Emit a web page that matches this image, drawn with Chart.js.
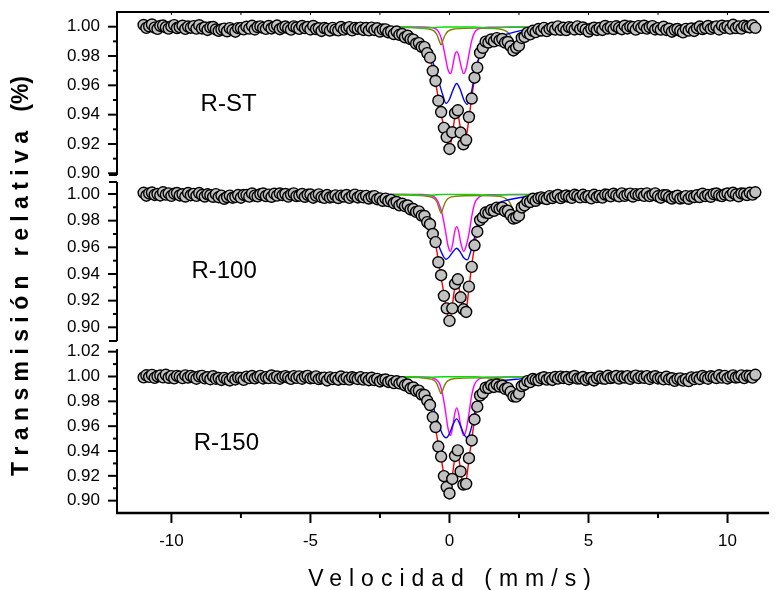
<!DOCTYPE html>
<html>
<head>
<meta charset="utf-8">
<title>Espectros Mössbauer R-ST, R-100, R-150</title>
<script src="https://cdn.jsdelivr.net/npm/chart.js@4.4.1/dist/chart.umd.min.js"></script>
<style>
  html, body { margin: 0; padding: 0; background: #fff; overflow: hidden; }
  #wrap { width: 776px; height: 590px; }
</style>
</head>
<body>
<div id="wrap"><canvas id="moss" width="776" height="590"></canvas></div>
<script>
// channel grid of the folded spectra, mm/s
const V0 = -11.0;
const DV = 0.1;

// measured relative transmission, one value per channel
const ptsST = [
  1.0012, 0.9992, 1.0003, 1.0015, 0.9994, 0.9985, 1.0005, 1.0008, 0.9996, 0.9987,
  1.0002, 1.0011, 0.9991, 0.9997, 1.0007, 0.9985, 1.0001, 0.9993, 1.0004, 0.9987,
  1.0010, 0.9988, 0.9995, 0.9978, 0.9996, 0.9998, 0.9981, 0.9972, 0.9981, 0.9987,
  0.9969, 0.9990, 0.9978, 0.9966, 0.9990, 0.9990, 0.9982, 1.0000, 0.9987, 1.0006,
  0.9981, 0.9998, 1.0002, 0.9992, 0.9985, 1.0005, 0.9988, 0.9999, 1.0008, 0.9983,
  0.9994, 1.0001, 0.9990, 0.9980, 1.0002, 0.9995, 0.9985, 1.0005, 0.9990, 0.9998,
  0.9981, 1.0005, 0.9984, 0.9989, 0.9971, 0.9991, 0.9985, 0.9974, 0.9992, 0.9980,
  0.9975, 0.9998, 0.9980, 0.9990, 0.9997, 0.9975, 0.9992, 0.9986, 0.9994, 0.9978,
  0.9991, 0.9975, 0.9994, 0.9978, 0.9989, 0.9967, 0.9981, 0.9982, 0.9962, 0.9968,
  0.9950, 0.9967, 0.9945, 0.9950, 0.9928, 0.9938, 0.9915, 0.9912, 0.9884, 0.9888,
  0.9862, 0.9861, 0.9820, 0.9789, 0.9698, 0.9630, 0.9495, 0.9418, 0.9310, 0.9247,
  0.9166, 0.9280, 0.9410, 0.9430, 0.9278, 0.9198, 0.9227, 0.9384, 0.9510, 0.9652,
  0.9721, 0.9822, 0.9856, 0.9898, 0.9892, 0.9913, 0.9900, 0.9922, 0.9907, 0.9916,
  0.9892, 0.9896, 0.9867, 0.9838, 0.9856, 0.9871, 0.9923, 0.9930, 0.9958, 0.9948,
  0.9972,
  0.9963, 0.9984, 0.9974, 0.9992, 0.9970, 0.9985, 0.9993, 0.9980, 1.0002, 0.9979,
  0.9993, 0.9977, 0.9997, 0.9992, 0.9981, 1.0002, 0.9983, 0.9995, 0.9981, 0.9967,
  0.9986, 0.9993, 0.9978, 0.9991, 0.9978, 1.0005, 0.9988, 0.9997, 0.9984, 1.0003,
  0.9992, 0.9983, 1.0007, 0.9988, 1.0001, 0.9997, 0.9980, 1.0004, 0.9992, 1.0007,
  0.9987, 0.9998, 1.0004, 0.9981, 0.9990, 0.9980, 1.0000, 0.9978, 0.9986, 0.9966,
  0.9979, 0.9984, 0.9972, 0.9961, 0.9985, 0.9973, 0.9988, 0.9971, 0.9990, 1.0001,
  0.9984, 0.9991, 1.0005, 0.9985, 0.9996, 1.0002, 0.9981, 1.0007, 0.9993, 1.0003,
  0.9987, 1.0013, 0.9991, 1.0002, 0.9987, 1.0007, 1.0000, 0.9995, 1.0010, 0.9992
];
const pts100 = [
  1.0009, 0.9987, 1.0004, 1.0011, 0.9993, 1.0000, 0.9989, 1.0013, 0.9995, 1.0005,
  0.9986, 1.0002, 1.0007, 0.9989, 0.9998, 0.9981, 1.0008, 0.9991, 1.0001, 0.9986,
  1.0007, 0.9992, 0.9981, 0.9998, 0.9991, 0.9979, 0.9999, 0.9976, 0.9988, 0.9964,
  0.9977, 0.9988, 0.9972, 0.9978, 0.9992, 0.9972, 0.9993, 0.9992, 0.9980, 1.0004,
  0.9988, 0.9982, 0.9998, 1.0004, 0.9985, 0.9995, 0.9979, 1.0002, 0.9988, 1.0004,
  0.9992, 1.0000, 0.9980, 0.9996, 1.0005, 0.9984, 0.9988, 1.0000, 0.9979, 0.9994,
  0.9996, 0.9972, 0.9988, 0.9997, 0.9977, 0.9971, 0.9992, 0.9974, 0.9979, 0.9990,
  0.9970, 0.9988, 0.9981, 0.9993, 0.9971, 0.9986, 0.9995, 0.9974, 0.9986, 0.9975,
  0.9986, 0.9966, 0.9979, 0.9984, 0.9961, 0.9967, 0.9949, 0.9965, 0.9947, 0.9956,
  0.9932, 0.9940, 0.9915, 0.9927, 0.9909, 0.9914, 0.9884, 0.9887, 0.9866, 0.9870,
  0.9838, 0.9835, 0.9789, 0.9773, 0.9700, 0.9639, 0.9488, 0.9391, 0.9236, 0.9142,
  0.9048, 0.9142, 0.9325, 0.9360, 0.9225, 0.9135, 0.9115, 0.9305, 0.9453, 0.9615,
  0.9717, 0.9804, 0.9824, 0.9861, 0.9857, 0.9880, 0.9874, 0.9898, 0.9889, 0.9898,
  0.9871, 0.9874, 0.9842, 0.9816, 0.9822, 0.9838, 0.9899, 0.9915, 0.9945, 0.9940,
  0.9964,
  0.9949, 0.9968, 0.9975, 0.9967, 0.9962, 0.9984, 0.9970, 0.9983, 0.9993, 0.9969,
  0.9981, 0.9989, 0.9979, 0.9971, 0.9994, 0.9986, 0.9975, 0.9994, 0.9977, 0.9984,
  0.9967, 0.9994, 0.9977, 0.9986, 0.9973, 0.9996, 0.9993, 0.9983, 1.0002, 0.9989,
  0.9983, 1.0005, 0.9986, 0.9996, 1.0003, 0.9981, 0.9999, 0.9993, 1.0001, 0.9986,
  1.0005, 0.9984, 0.9994, 1.0005, 0.9983, 0.9972, 0.9991, 0.9991, 0.9977, 0.9966,
  0.9979, 0.9987, 0.9966, 0.9973, 0.9984, 0.9964, 0.9983, 0.9977, 0.9991, 0.9977,
  1.0002, 0.9984, 0.9993, 0.9979, 1.0000, 1.0004, 0.9990, 0.9984, 0.9996, 1.0004,
  0.9988, 1.0009, 0.9996, 0.9983, 1.0004, 1.0002, 0.9992, 1.0009, 0.9995, 1.0013
];
const pts150 = [
  0.9993, 1.0010, 0.9997, 1.0013, 0.9989, 1.0002, 1.0008, 0.9993, 1.0014, 0.9990,
  1.0003, 0.9985, 1.0005, 0.9999, 0.9987, 1.0009, 0.9992, 1.0005, 0.9994, 0.9982,
  1.0001, 1.0005, 0.9985, 0.9994, 0.9978, 1.0002, 0.9982, 0.9988, 0.9972, 0.9989,
  0.9977, 0.9968, 0.9993, 0.9976, 0.9991, 0.9988, 0.9973, 0.9999, 0.9988, 1.0004,
  0.9985, 0.9997, 1.0005, 0.9984, 0.9995, 0.9987, 1.0008, 0.9989, 1.0000, 0.9982,
  0.9997, 1.0003, 0.9992, 0.9981, 1.0003, 0.9989, 1.0001, 0.9982, 0.9998, 1.0005,
  0.9985, 0.9989, 1.0001, 0.9979, 0.9988, 0.9991, 0.9968, 0.9993, 0.9979, 0.9989,
  0.9974, 1.0000, 0.9979, 0.9991, 0.9975, 0.9994, 0.9987, 0.9980, 0.9995, 0.9975,
  0.9987, 0.9970, 0.9990, 0.9971, 0.9981, 0.9960, 0.9972, 0.9976, 0.9956, 0.9965,
  0.9947, 0.9962, 0.9945, 0.9955, 0.9929, 0.9935, 0.9905, 0.9912, 0.9885, 0.9886,
  0.9855, 0.9851, 0.9805, 0.9770, 0.9673, 0.9593, 0.9436, 0.9355, 0.9198, 0.9110,
  0.9058, 0.9175, 0.9360, 0.9405, 0.9235, 0.9130, 0.9135, 0.9342, 0.9485, 0.9654,
  0.9757, 0.9847, 0.9867, 0.9910, 0.9907, 0.9929, 0.9916, 0.9935, 0.9919, 0.9926,
  0.9901, 0.9906, 0.9877, 0.9840, 0.9838, 0.9862, 0.9923, 0.9935, 0.9963, 0.9955,
  0.9980,
  0.9973, 0.9969, 0.9987, 0.9994, 0.9975, 0.9987, 0.9972, 0.9996, 0.9983, 0.9999,
  0.9988, 0.9996, 0.9978, 0.9994, 1.0004, 0.9983, 0.9985, 0.9996, 0.9972, 0.9986,
  0.9989, 0.9968, 0.9988, 1.0000, 0.9984, 0.9982, 1.0006, 0.9988, 0.9994, 1.0004,
  0.9983, 1.0000, 0.9992, 1.0003, 0.9981, 0.9998, 1.0007, 0.9987, 1.0000, 0.9990,
  1.0003, 0.9980, 0.9996, 1.0002, 0.9984, 0.9989, 0.9977, 0.9998, 0.9978, 0.9986,
  0.9965, 0.9981, 0.9985, 0.9967, 0.9978, 0.9963, 0.9993, 0.9979, 0.9992, 0.9980,
  1.0004, 0.9991, 0.9982, 1.0002, 0.9997, 0.9988, 1.0010, 0.9991, 1.0005, 0.9984,
  0.9998, 1.0009, 0.9992, 0.9996, 1.0009, 0.9987, 1.0006, 1.0004, 0.9991, 1.0014
];

// fitted subspectra, sampled at knot velocities (mm/s)
const greenV = [-11, -9.0, -8.6, -8.3, -8.0, -7.7, -7.4, -7.0, -5.2, -4.8, -4.5, -4.3, -4.1, -3.8, -3.4,
  -1.6, -1.2, -0.9, -0.6, -0.2, 0.9, 1.2, 1.5, 1.8, 2.2, 4.3, 4.7, 5.0, 5.3, 5.7, 7.4, 7.8, 8.1, 8.4, 8.7, 9.1, 11];
const greenST = [1.0000, 0.9998, 0.9991, 0.9981, 0.9976, 0.9981, 0.9991, 0.9997, 0.9998, 0.9992, 0.9984, 0.9980, 0.9984, 0.9992, 0.9997,
  0.9998, 0.9994, 0.9991, 0.9994, 0.9998, 0.9998, 0.9994, 0.9991, 0.9994, 0.9998, 0.9997, 0.9990, 0.9982, 0.9990, 0.9997, 0.9997, 0.9988, 0.9979, 0.9976, 0.9982, 0.9994, 1.0000];
const green100 = [1.0000, 0.9997, 0.9990, 0.9980, 0.9975, 0.9980, 0.9990, 0.9996, 0.9997, 0.9991, 0.9983, 0.9979, 0.9983, 0.9991, 0.9996,
  0.9997, 0.9993, 0.9990, 0.9993, 0.9997, 0.9997, 0.9993, 0.9990, 0.9993, 0.9997, 0.9996, 0.9989, 0.9981, 0.9989, 0.9996, 0.9996, 0.9987, 0.9978, 0.9975, 0.9981, 0.9993, 1.0000];
const green150 = [1.0000, 0.9998, 0.9992, 0.9983, 0.9978, 0.9983, 0.9992, 0.9997, 0.9998, 0.9993, 0.9985, 0.9982, 0.9985, 0.9993, 0.9997,
  0.9998, 0.9995, 0.9992, 0.9995, 0.9998, 0.9998, 0.9995, 0.9992, 0.9995, 0.9998, 0.9997, 0.9991, 0.9983, 0.9991, 0.9997, 0.9997, 0.9989, 0.9980, 0.9977, 0.9983, 0.9994, 1.0000];

const blueV = [-11, -6, -4, -3.2, -2.6, -2.2, -1.8, -1.4, -1.1, -0.8, -0.6, -0.4, -0.25, -0.12, 0.0, 0.12, 0.26,
  0.4, 0.52, 0.64, 0.78, 0.9, 1.0, 1.15, 1.3, 1.5, 1.7, 2.0, 2.4, 2.8, 3.3, 4.5, 6, 11];
const blueST = [1.0000, 0.9998, 0.9995, 0.9992, 0.9988, 0.9980, 0.9962, 0.9932, 0.9898, 0.9838, 0.9760, 0.9636, 0.9540, 0.9477, 0.9505, 0.9565, 0.9613,
  0.9565, 0.9500, 0.9470, 0.9545, 0.9665, 0.9750, 0.9845, 0.9887, 0.9912, 0.9925, 0.9945, 0.9966, 0.9982, 0.9990, 0.9996, 0.9999, 1.0000];
const blue100 = [1.0000, 0.9997, 0.9993, 0.9989, 0.9982, 0.9972, 0.9955, 0.9918, 0.9875, 0.9825, 0.9740, 0.9620, 0.9545, 0.9510, 0.9530, 0.9565, 0.9593,
  0.9560, 0.9520, 0.9506, 0.9580, 0.9675, 0.9765, 0.9835, 0.9878, 0.9912, 0.9930, 0.9950, 0.9968, 0.9981, 0.9989, 0.9995, 0.9998, 1.0000];
const blue150 = [1.0000, 0.9998, 0.9995, 0.9992, 0.9987, 0.9980, 0.9968, 0.9945, 0.9905, 0.9840, 0.9760, 0.9625, 0.9535, 0.9506, 0.9540, 0.9610, 0.9659,
  0.9600, 0.9535, 0.9506, 0.9580, 0.9700, 0.9805, 0.9890, 0.9925, 0.9948, 0.9960, 0.9970, 0.9978, 0.9985, 0.9990, 0.9996, 0.9999, 1.0000];

const magV = [-11, -1.0, -0.6, -0.45, -0.35, -0.25, -0.15, -0.05, 0.04, 0.12, 0.19, 0.26, 0.33, 0.4, 0.51, 0.6, 0.7, 0.8, 0.9, 1.05, 1.4, 11];
const magST = [1.0000, 0.9998, 0.9993, 0.9980, 0.9950, 0.9890, 0.9795, 0.9705, 0.9680, 0.9735, 0.9805, 0.9830, 0.9805, 0.9745, 0.9680, 0.9715, 0.9810, 0.9905, 0.9960, 0.9985, 0.9996, 1.0000];
const mag100 = [1.0000, 0.9997, 0.9985, 0.9955, 0.9910, 0.9840, 0.9730, 0.9610, 0.9570, 0.9630, 0.9720, 0.9755, 0.9720, 0.9640, 0.9570, 0.9610, 0.9700, 0.9830, 0.9925, 0.9975, 0.9994, 1.0000];
const mag150 = [1.0000, 0.9997, 0.9988, 0.9970, 0.9940, 0.9860, 0.9730, 0.9580, 0.9524, 0.9600, 0.9700, 0.9747, 0.9700, 0.9610, 0.9524, 0.9570, 0.9700, 0.9850, 0.9935, 0.9978, 0.9995, 1.0000];

const oliveV = [-11, -1.5, -0.8, -0.55, -0.45, -0.37, -0.3, -0.23, -0.15, -0.05, 0.2, 1.0, 1.8, 2.05, 2.17, 2.27, 2.35, 2.43, 2.53, 2.65, 2.85, 3.4, 11];
const oliveST = [1.0000, 0.9994, 0.9985, 0.9970, 0.9945, 0.9905, 0.9875, 0.9910, 0.9945, 0.9970, 0.9985, 0.9990, 0.9984, 0.9968, 0.9945, 0.9910, 0.9887, 0.9910, 0.9945, 0.9968, 0.9982, 0.9993, 1.0000];
const olive100 = [1.0000, 0.9993, 0.9983, 0.9966, 0.9938, 0.9892, 0.9855, 0.9895, 0.9938, 0.9966, 0.9983, 0.9989, 0.9982, 0.9962, 0.9935, 0.9892, 0.9855, 0.9892, 0.9935, 0.9962, 0.9980, 0.9992, 1.0000];
const olive150 = [1.0000, 0.9994, 0.9984, 0.9968, 0.9940, 0.9895, 0.9860, 0.9897, 0.9940, 0.9967, 0.9984, 0.9989, 0.9982, 0.9962, 0.9932, 0.9885, 0.9847, 0.9885, 0.9932, 0.9962, 0.9980, 0.9992, 1.0000];

// total fit
const redV = [-11, -10.4, -9.8, -9.2, -8.7, -8.3, -8.0, -7.7, -7.3, -6.8, -6.0, -5.2, -4.7, -4.4, -4.1, -3.7, -3.2, -2.8, -2.4, -2.0,
  -1.7, -1.4, -1.2, -1.0, -0.85, -0.7, -0.6, -0.5, -0.4, -0.3, -0.2, -0.1, 0.0, 0.1, 0.18, 0.26, 0.34, 0.42, 0.51, 0.6,
  0.7, 0.8, 0.9, 1.0, 1.1, 1.2, 1.35, 1.5, 1.7, 1.9, 2.05, 2.2, 2.35, 2.5, 2.65, 2.8, 3.0, 3.3, 3.8, 4.5,
  4.8, 5.05, 5.3, 5.8, 7.0, 7.7, 8.05, 8.4, 8.8, 9.3, 10.2, 11];
const redST = [1.0000, 0.9999, 0.9998, 0.9996, 0.9991, 0.9982, 0.9977, 0.9981, 0.9990, 0.9994,
  0.9994, 0.9993, 0.9988, 0.9981, 0.9982, 0.9987, 0.9987, 0.9983, 0.9976, 0.9960,
  0.9943, 0.9918, 0.9893, 0.9866, 0.9840, 0.9780, 0.9710, 0.9620, 0.9510, 0.9400,
  0.9320, 0.9235, 0.9180, 0.9255, 0.9370, 0.9420, 0.9370, 0.9270, 0.9190, 0.9245,
  0.9370, 0.9520, 0.9640, 0.9730, 0.9815, 0.9862, 0.9893, 0.9908, 0.9913, 0.9909,
  0.9898, 0.9875, 0.9842, 0.9880, 0.9925, 0.9950, 0.9966, 0.9977, 0.9986, 0.9991,
  0.9986, 0.9980, 0.9986, 0.9992, 0.9995, 0.9986, 0.9977, 0.9974, 0.9982, 0.9993,
  0.9998, 1.0000];
const red100 = [1.0000, 0.9999, 0.9997, 0.9995, 0.9990, 0.9981, 0.9976, 0.9980, 0.9988, 0.9992,
  0.9993, 0.9990, 0.9985, 0.9978, 0.9979, 0.9984, 0.9981, 0.9974, 0.9960, 0.9940,
  0.9920, 0.9893, 0.9872, 0.9845, 0.9814, 0.9765, 0.9710, 0.9625, 0.9500, 0.9375,
  0.9250, 0.9130, 0.9043, 0.9160, 0.9280, 0.9330, 0.9295, 0.9210, 0.9115, 0.9135,
  0.9290, 0.9465, 0.9605, 0.9725, 0.9795, 0.9830, 0.9858, 0.9875, 0.9890, 0.9888,
  0.9875, 0.9850, 0.9820, 0.9845, 0.9905, 0.9938, 0.9958, 0.9967, 0.9978, 0.9985,
  0.9982, 0.9977, 0.9982, 0.9990, 0.9994, 0.9985, 0.9976, 0.9973, 0.9980, 0.9991,
  0.9997, 1.0000];
const red150 = [1.0000, 1.0000, 0.9998, 0.9996, 0.9991, 0.9983, 0.9978, 0.9982, 0.9990, 0.9994,
  0.9994, 0.9993, 0.9988, 0.9982, 0.9983, 0.9987, 0.9985, 0.9978, 0.9968, 0.9957,
  0.9944, 0.9914, 0.9890, 0.9865, 0.9828, 0.9760, 0.9685, 0.9580, 0.9450, 0.9340,
  0.9210, 0.9100, 0.9054, 0.9195, 0.9320, 0.9377, 0.9330, 0.9220, 0.9110, 0.9160,
  0.9330, 0.9495, 0.9645, 0.9765, 0.9840, 0.9873, 0.9908, 0.9924, 0.9926, 0.9919,
  0.9906, 0.9885, 0.9835, 0.9870, 0.9928, 0.9955, 0.9974, 0.9981, 0.9987, 0.9991,
  0.9986, 0.9981, 0.9986, 0.9992, 0.9995, 0.9987, 0.9978, 0.9975, 0.9983, 0.9993,
  0.9998, 1.0000];

// tick labels
const xTicks = [-10, -5, 0, 5, 10];
const xMinorTicks = [-7.5, -2.5, 2.5, 7.5];
const yTicksST = [0.90, 0.92, 0.94, 0.96, 0.98, 1.00];
const yTicks100 = [0.90, 0.92, 0.94, 0.96, 0.98, 1.00];
const yTicks150 = [0.90, 0.92, 0.94, 0.96, 0.98, 1.00, 1.02];

const SANS = '"Liberation Sans", Arial, sans-serif';
const X_TITLE = 'Velocidad (mm/s)';
const Y_TITLE = 'T r a n s m i s i ó n   r e l a t i v a   (%)';

// one stacked panel per sample; span = visible extent of its left axis
const panels = [
  { id: 'yST',  name: 'R-ST',  ticks: yTicksST,  min: 0.89679, max: 1.01003, span: [0.89884, 1.01003], h: 166, order: 3,
    caps: [false, true],  at: [-8.95, 0.9425],
    pts: ptsST,  fits: [[greenV, greenST], [blueV, blueST], [redV, redST], [oliveV, oliveST], [magV, magST]] },
  { id: 'y100', name: 'R-100', ticks: yTicks100, min: 0.88672, max: 1.01200, span: [0.88972, 1.00900], h: 167, order: 2,
    caps: [true, true],   at: [-9.28, 0.9370],
    pts: pts100, fits: [[greenV, green100], [blueV, blue100], [redV, red100], [oliveV, olive100], [magV, mag100]] },
  { id: 'y150', name: 'R-150', ticks: yTicks150, min: 0.89007, max: 1.02537, span: [0.89007, 1.02215], h: 168, order: 1,
    caps: [false, false], at: [-9.20, 0.9408],
    pts: pts150, fits: [[greenV, green150], [blueV, blue150], [redV, red150], [oliveV, olive150], [magV, mag150]] }
];
const fitColors = ['#00e000', '#0000ff', '#ff0000', '#808000', '#ff00ff'];

const datasets = [];
for (const p of panels) {
  datasets.push({
    data: p.pts.map((t, i) => ({ x: V0 + i * DV, y: t })),
    yAxisID: p.id,
    showLine: false,
    pointRadius: 5.5,
    pointBorderWidth: 1.4,
    pointBackgroundColor: '#c2c2c2',
    pointBorderColor: '#000'
  });
  p.fits.forEach(([vs, ts], k) => datasets.push({
    data: vs.map((v, i) => ({ x: v, y: ts[i] })),
    yAxisID: p.id,
    showLine: true,
    pointRadius: 0,
    pointHitRadius: 0,
    borderColor: fitColors[k],
    borderWidth: 1.4,
    cubicInterpolationMode: 'monotone',
    fill: false
  }));
}

const scales = {
  x: {
    type: 'linear', position: 'bottom', min: -11.957, max: 11.495,
    afterBuildTicks: s => { s.ticks = xTicks.map(v => ({ value: v })); },
    afterFit: s => { s.height = 77; s.paddingLeft = 0; s.paddingRight = 0; },
    grid: { display: false, drawTicks: false },
    border: { display: false },
    ticks: { padding: 18, color: '#000', autoSkip: false, maxRotation: 0,
             font: { family: SANS, size: 17 }, callback: v => String(v) }
  }
};
for (const p of panels) {
  scales[p.id] = {
    type: 'linear', position: 'left', stack: 'panels', stackWeight: p.h, weight: p.order,
    min: p.min, max: p.max,
    afterBuildTicks: s => { s.ticks = p.ticks.map(v => ({ value: v })); },
    afterFit: s => { s.width = 117; s.paddingTop = 0; s.paddingBottom = 0; },
    grid: { display: false, drawTicks: false },
    border: { display: false },
    ticks: { padding: 17, color: '#000', autoSkip: false,
             font: { family: SANS, size: 17 }, callback: v => v.toFixed(2) }
  };
}

// axis lines, ticks, titles and sample names
const framePlugin = {
  id: 'frame',
  afterDraw(chart) {
    const { ctx, chartArea: area } = chart;
    const xs = chart.scales.x;
    const seg = (x1, y1, x2, y2) => { ctx.beginPath(); ctx.moveTo(x1, y1); ctx.lineTo(x2, y2); ctx.stroke(); };
    ctx.save();
    ctx.strokeStyle = '#000';

    ctx.lineWidth = 2;
    seg(area.left - 1, area.top, area.right, area.top);
    ctx.lineWidth = 1;
    for (const v of xTicks.concat(xMinorTicks)) {
      const px = xs.getPixelForValue(v);
      seg(px, area.top, px, area.top + 3);
    }

    ctx.lineWidth = 2.5;
    seg(area.left - 1, area.bottom, area.right, area.bottom);
    ctx.lineWidth = 2;
    for (const v of xTicks) { const px = xs.getPixelForValue(v); seg(px, area.bottom, px, area.bottom + 10); }
    for (const v of xMinorTicks) { const px = xs.getPixelForValue(v); seg(px, area.bottom, px, area.bottom + 5); }

    for (const p of panels) {
      const ys = chart.scales[p.id];
      const yTop = ys.getPixelForValue(p.span[1]);
      const yBot = ys.getPixelForValue(p.span[0]);
      ctx.lineWidth = 2;
      seg(area.left, yTop, area.left, yBot);
      for (const t of p.ticks) { const py = ys.getPixelForValue(t); seg(area.left - 9, py, area.left, py); }
      for (let k = 1; k < p.ticks.length; k++) {
        const py = ys.getPixelForValue((p.ticks[k - 1] + p.ticks[k]) / 2);
        seg(area.left - 4, py, area.left, py);
      }
      if (p.caps[0]) seg(area.left - 8, yTop, area.left, yTop);
      if (p.caps[1]) seg(area.left - 8, yBot, area.left, yBot);
    }

    ctx.fillStyle = '#000';
    ctx.textAlign = 'left';
    ctx.textBaseline = 'alphabetic';
    ctx.font = '24px ' + SANS;
    for (const p of panels) {
      ctx.fillText(p.name, xs.getPixelForValue(p.at[0]), chart.scales[p.id].getPixelForValue(p.at[1]));
    }

    ctx.textAlign = 'center';
    ctx.font = '23px ' + SANS;
    ctx.letterSpacing = '7px';
    ctx.fillText(X_TITLE, xs.getPixelForValue(0) + 3.5, area.bottom + 73);
    ctx.letterSpacing = '0px';

    ctx.translate(22, 276);
    ctx.rotate(-Math.PI / 2);
    ctx.textBaseline = 'middle';
    ctx.font = 'bold 23px ' + SANS;
    ctx.fillText(Y_TITLE, 0, 0);
    ctx.restore();
  }
};

new Chart(document.getElementById('moss'), {
  type: 'scatter',
  data: { datasets },
  options: {
    responsive: false,
    animation: false,
    devicePixelRatio: 1,
    layout: { padding: { top: 12, left: 0, right: 0, bottom: 0 } },
    plugins: { legend: { display: false }, tooltip: { enabled: false } },
    scales
  },
  plugins: [framePlugin]
});
</script>
</body>
</html>
